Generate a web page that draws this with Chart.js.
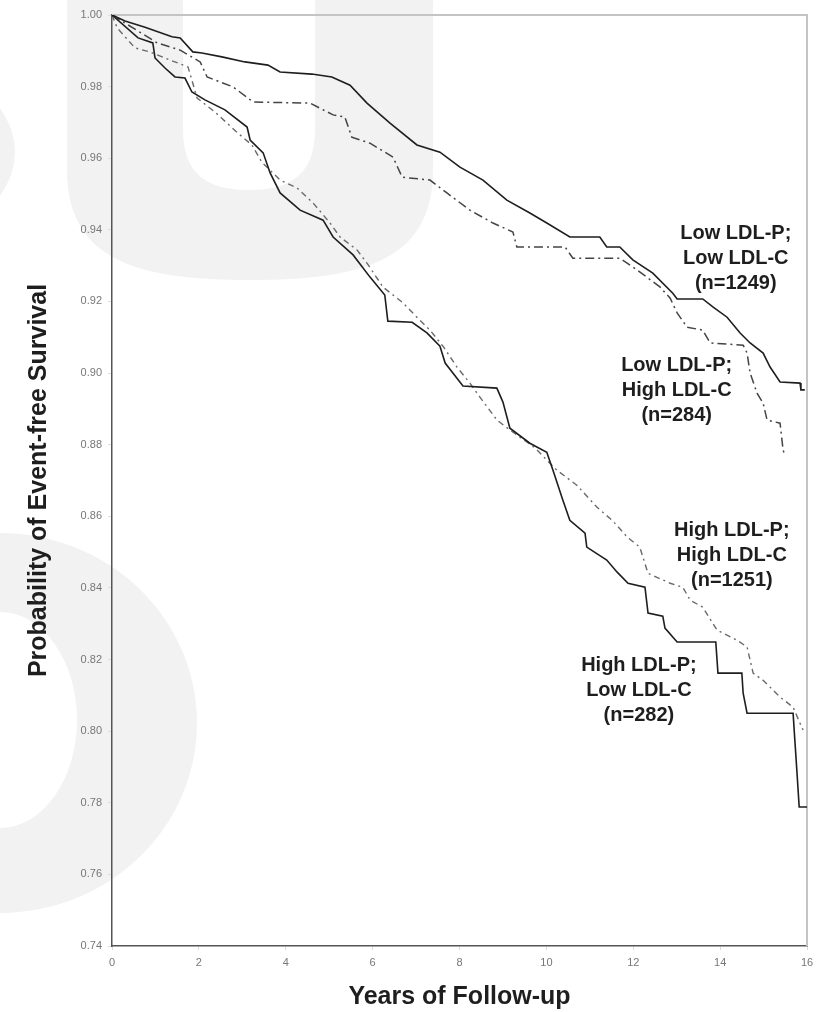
<!DOCTYPE html>
<html>
<head>
<meta charset="utf-8">
<script src="https://cdn.jsdelivr.net/npm/chart.js@4.4.1/dist/chart.umd.min.js"></script>
<style>
  html, body { margin: 0; padding: 0; background: #fff; }
  #wrap { position: relative; width: 826px; height: 1012px; }
</style>
</head>
<body>
<div id="wrap"><canvas id="km" width="826" height="1012"></canvas></div>
<script>
// axis ticks
const xTicks = [0, 2, 4, 6, 8, 10, 12, 14, 16];
const yTicks = [0.74, 0.76, 0.78, 0.80, 0.82, 0.84, 0.86, 0.88, 0.90, 0.92, 0.94, 0.96, 0.98, 1.00];

// Low LDL-P; Low LDL-C (solid, upper)
const lowLowYears = [0, 0.30, 0.76, 1.38, 1.57, 1.86, 2.07, 2.53, 3.06, 3.59, 3.87, 4.60, 5.06, 5.48, 5.87, 6.40, 7.02, 7.55, 8.01, 8.54, 9.09, 9.62, 10.01, 10.54, 11.23, 11.39, 11.69, 11.99, 12.45, 12.91, 13.01, 13.60, 13.84, 14.16, 14.46, 14.69, 14.99, 15.15, 15.38, 15.84, 15.86, 15.95];
const lowLowSurv = [1.000, 0.9983, 0.9966, 0.9939, 0.9936, 0.9897, 0.9894, 0.9883, 0.9869, 0.9860, 0.9841, 0.9835, 0.9827, 0.9804, 0.9754, 0.9698, 0.9637, 0.9617, 0.9575, 0.9539, 0.9483, 0.9447, 0.9419, 0.9380, 0.9380, 0.9352, 0.9352, 0.9316, 0.9279, 0.9223, 0.9207, 0.9207, 0.9184, 0.9156, 0.9112, 0.9084, 0.9056, 0.9017, 0.8975, 0.8972, 0.8953, 0.8953];

// Low LDL-P; High LDL-C (dash-dot, upper)
const lowHighYears = [0, 1.04, 1.57, 2.03, 2.19, 2.79, 3.25, 4.56, 5.09, 5.36, 5.52, 5.94, 6.47, 6.68, 7.32, 7.71, 8.24, 8.77, 9.23, 9.32, 10.43, 10.61, 11.69, 12.09, 12.62, 12.85, 13.01, 13.24, 13.60, 13.77, 14.53, 14.62, 14.69, 14.85, 14.99, 15.08, 15.38, 15.45, 15.49];
const lowHighSurv = [1.000, 0.9922, 0.9902, 0.9869, 0.9827, 0.9799, 0.9757, 0.9754, 0.9721, 0.9715, 0.9659, 0.9642, 0.9603, 0.9547, 0.9539, 0.9503, 0.9455, 0.9419, 0.9394, 0.9352, 0.9352, 0.9321, 0.9321, 0.9288, 0.9240, 0.9209, 0.9168, 0.9128, 0.9120, 0.9084, 0.9078, 0.9056, 0.9000, 0.8944, 0.8916, 0.8869, 0.8860, 0.8785, 0.8771];

// High LDL-P; Low LDL-C (solid, lower)
const highLowYears = [0, 0.60, 0.94, 0.99, 1.22, 1.45, 1.68, 1.84, 2.14, 2.60, 3.11, 3.18, 3.48, 3.64, 3.87, 4.33, 4.86, 5.09, 5.55, 5.94, 6.28, 6.35, 6.91, 7.25, 7.55, 7.67, 8.08, 8.86, 9.00, 9.16, 9.62, 10.01, 10.15, 10.38, 10.54, 10.89, 10.93, 11.39, 11.63, 11.88, 12.27, 12.34, 12.68, 12.73, 13.01, 13.90, 13.95, 14.50, 14.53, 14.62, 15.68, 15.72, 15.77, 15.82, 16.0];
const highLowSurv = [1.000, 0.9936, 0.9922, 0.9880, 0.9852, 0.9827, 0.9824, 0.9785, 0.9763, 0.9735, 0.9687, 0.9651, 0.9615, 0.9559, 0.9503, 0.9455, 0.9427, 0.9380, 0.9330, 0.9268, 0.9218, 0.9145, 0.9142, 0.9112, 0.9075, 0.9028, 0.8964, 0.8958, 0.8919, 0.8846, 0.8804, 0.8779, 0.8729, 0.8645, 0.8589, 0.8553, 0.8514, 0.8478, 0.8444, 0.8413, 0.8402, 0.8330, 0.8321, 0.8288, 0.8249, 0.8249, 0.8162, 0.8162, 0.8106, 0.8050, 0.8050, 0.7975, 0.7883, 0.7788, 0.7788];

// High LDL-P; High LDL-C (dash-dot, lower)
const highHighYears = [0, 0.12, 0.53, 0.87, 1.34, 1.75, 1.96, 2.37, 2.90, 3.22, 3.45, 3.87, 4.26, 4.63, 5.02, 5.25, 5.64, 5.87, 6.24, 6.70, 7.02, 7.32, 7.62, 7.94, 8.24, 8.47, 8.86, 9.16, 9.74, 10.01, 10.24, 10.70, 11.16, 11.53, 11.86, 12.15, 12.34, 12.85, 13.14, 13.31, 13.60, 13.93, 14.39, 14.62, 14.76, 14.99, 15.38, 15.68, 15.84, 15.91];
const highHighSurv = [1.000, 0.9964, 0.9908, 0.9897, 0.9874, 0.9855, 0.9768, 0.9729, 0.9670, 0.9637, 0.9589, 0.9539, 0.9517, 0.9475, 0.9419, 0.9380, 0.9344, 0.9307, 0.9240, 0.9196, 0.9156, 0.9120, 0.9075, 0.9017, 0.8972, 0.8933, 0.8869, 0.8841, 0.8791, 0.8757, 0.8729, 0.8687, 0.8626, 0.8587, 0.8542, 0.8514, 0.8441, 0.8413, 0.8402, 0.8366, 0.8346, 0.8282, 0.8254, 0.8235, 0.8162, 0.8142, 0.8095, 0.8067, 0.8022, 0.8003];

// curve labels (text) and where they sit, in data units
const groupLabels = [
  ['Low LDL-P;', 'Low LDL-C', '(n=1249)'],
  ['Low LDL-P;', 'High LDL-C', '(n=284)'],
  ['High LDL-P;', 'High LDL-C', '(n=1251)'],
  ['High LDL-P;', 'Low LDL-C', '(n=282)']
];
const labelAnchors = [[14.36, 0.9391], [13.0, 0.9022], [14.27, 0.8561], [12.13, 0.8184]];

const FONT = "'Liberation Sans', Arial, sans-serif";

function pts(xs, ys) { return xs.map((x, i) => ({ x: x, y: ys[i] })); }

// faint publisher watermark behind the plot
const watermark = {
  id: 'watermark',
  beforeDraw(chart) {
    const ctx = chart.ctx;
    ctx.save();
    ctx.fillStyle = '#f2f2f2';
    // big "U"
    ctx.beginPath();
    ctx.moveTo(67, 0); ctx.lineTo(67, 170);
    ctx.bezierCurveTo(67, 262, 140, 280, 250, 280);
    ctx.bezierCurveTo(360, 280, 433, 262, 433, 170);
    ctx.lineTo(433, 0); ctx.closePath(); ctx.fill();
    ctx.fillStyle = '#fff';
    ctx.beginPath();
    ctx.moveTo(183, 0); ctx.lineTo(183, 130);
    ctx.bezierCurveTo(183, 178, 212, 190, 249, 190);
    ctx.bezierCurveTo(286, 190, 315, 178, 315, 130);
    ctx.lineTo(315, 0); ctx.closePath(); ctx.fill();
    // sliver at left edge
    ctx.fillStyle = '#f2f2f2';
    ctx.beginPath(); ctx.ellipse(-120, 152, 135, 95, 0, 0, Math.PI * 2); ctx.fill();
    // ring at lower left
    ctx.beginPath(); ctx.ellipse(0, 723, 197, 190, 0, 0, Math.PI * 2); ctx.fill();
    ctx.fillStyle = '#fff';
    ctx.beginPath(); ctx.ellipse(0, 720, 77, 108, 0, 0, Math.PI * 2); ctx.fill();
    ctx.restore();
  }
};

// light top/right frame of the plot box
const frame = {
  id: 'frame',
  beforeDatasetsDraw(chart) {
    const { ctx, chartArea: a } = chart;
    ctx.save();
    ctx.strokeStyle = '#c4c4c4';
    ctx.lineWidth = 2;
    ctx.beginPath();
    ctx.moveTo(a.left, a.top); ctx.lineTo(a.right, a.top); ctx.lineTo(a.right, a.bottom);
    ctx.stroke();
    ctx.restore();
  }
};

const curveLabels = {
  id: 'curveLabels',
  afterDatasetsDraw(chart) {
    const { ctx, scales } = chart;
    ctx.save();
    ctx.fillStyle = '#1e1e1e';
    ctx.font = 'bold 20px ' + FONT;
    ctx.textAlign = 'center';
    ctx.textBaseline = 'middle';
    groupLabels.forEach((lines, i) => {
      const cx = scales.x.getPixelForValue(labelAnchors[i][0]);
      const cy = scales.y.getPixelForValue(labelAnchors[i][1]);
      lines.forEach((t, j) => ctx.fillText(t, cx, cy + j * 25));
    });
    ctx.restore();
  }
};

new Chart(document.getElementById('km'), {
  type: 'line',
  data: {
    datasets: [
      { label: 'Low LDL-P; Low LDL-C', data: pts(lowLowYears, lowLowSurv), borderColor: '#1e1e1e', borderWidth: 1.6 },
      { label: 'Low LDL-P; High LDL-C', data: pts(lowHighYears, lowHighSurv), borderColor: '#444', borderWidth: 1.5, borderDash: [9, 4, 2, 4] },
      { label: 'High LDL-P; Low LDL-C', data: pts(highLowYears, highLowSurv), borderColor: '#1e1e1e', borderWidth: 1.6 },
      { label: 'High LDL-P; High LDL-C', data: pts(highHighYears, highHighSurv), borderColor: '#6a6a6a', borderWidth: 1.4, borderDash: [6, 4, 2, 4] }
    ]
  },
  options: {
    responsive: false,
    animation: false,
    devicePixelRatio: 1,
    parsing: false,
    elements: { point: { radius: 0 }, line: { tension: 0, fill: false } },
    layout: { padding: { left: 0, right: 19, top: 15, bottom: 0 } },
    plugins: { legend: { display: false }, tooltip: { enabled: false } },
    scales: {
      x: {
        type: 'linear', min: 0, max: 16,
        afterBuildTicks: s => { s.ticks = xTicks.map(v => ({ value: v })); },
        afterFit: s => { s.height = 66; },
        border: { color: '#555', width: 1.5 },
        grid: { drawOnChartArea: false, tickLength: 4, color: '#ddd' },
        ticks: { padding: 6, color: '#777', font: { family: FONT, size: 11 }, maxRotation: 0, callback: v => String(v) },
        title: { display: true, text: 'Years of Follow-up', color: '#1e1e1e', font: { family: FONT, size: 25, weight: 'bold' }, padding: { top: 0, bottom: 0 } }
      },
      y: {
        type: 'linear', min: 0.74, max: 1.0,
        afterBuildTicks: s => { s.ticks = yTicks.map(v => ({ value: v })); },
        afterFit: s => { s.width = 112; },
        border: { color: '#555', width: 1.5 },
        grid: { drawOnChartArea: false, tickLength: 4, color: '#ddd' },
        ticks: { padding: 6, color: '#777', font: { family: FONT, size: 11 }, callback: v => v.toFixed(2) },
        title: { display: true, text: 'Probability of Event-free Survival', color: '#1e1e1e', font: { family: FONT, size: 25, weight: 'bold' }, padding: { top: 24, bottom: 0 } }
      }
    }
  },
  plugins: [watermark, frame, curveLabels]
});
</script>
</body>
</html>
